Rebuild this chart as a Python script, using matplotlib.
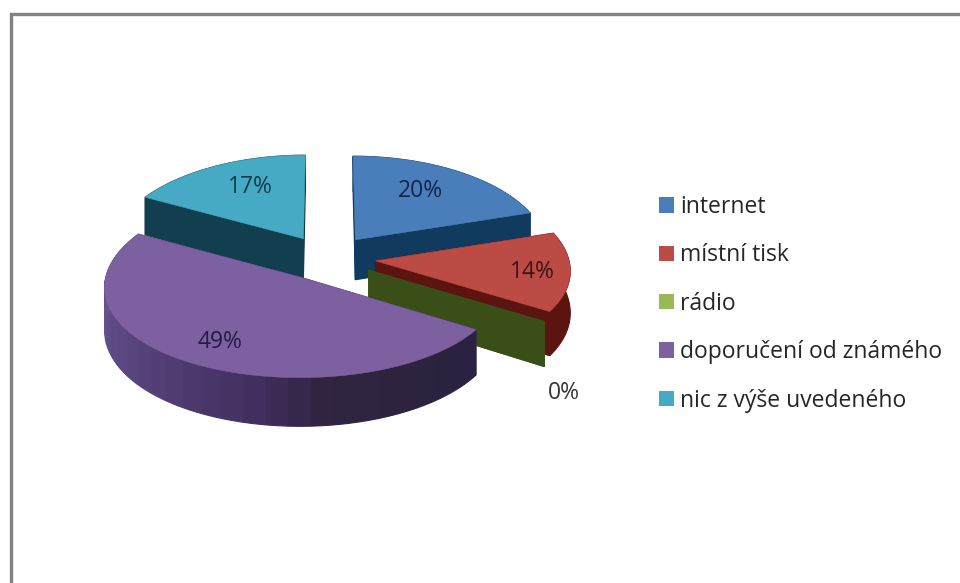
import numpy as np
import matplotlib
matplotlib.use('Agg')
import matplotlib.pyplot as plt
from matplotlib.colors import LinearSegmentedColormap
from matplotlib.patches import Patch

labels = ['internet', 'místní tisk', 'rádio', 'doporučení od známého', 'nic z výše uvedeného']
shares = [20, 14, 0, 49, 17]
top_colors = ['#4a7ebb', '#bc4a45', '#98b954', '#7d60a0', '#46aac5']
side_colors = ['#103a5e', '#5c1410', '#3a4f17', '#4a3a6a', '#123f4f']
# back slices first so the nearer ones paint over them
draw_order = [4, 0, 1, 2, 3]

# pie placement in pixels
CX, CY = 327.5, 258
RX, RY = 193, 91
EXPLODE = 0.25
PERSP_X, PERSP_Y = 0.09, 0.062
DEPTH = 41


def project(u, v):
    return CX + RX * u / (1 + PERSP_X * v), CY - RY * v / (1 + PERSP_Y * v)


def depth_at(v):
    return DEPTH / (1 + 0.13 * v)


def slice_points(start, end):
    """Outer rim and apex of a slice in plane coordinates."""
    mid = np.radians((start + end) / 2)
    ox, oy = EXPLODE * np.sin(mid), EXPLODE * np.cos(mid)
    n = max(2, int(abs(end - start) / 1.5))
    t = np.radians(np.linspace(start, end, n))
    return ox, oy, ox + np.sin(t), oy + np.cos(t)


def wall(ax, u, v, color):
    x, y = project(u, v)
    d = depth_at(np.asarray(v))
    ax.fill(np.r_[x, x[::-1]], np.r_[y, (y + d)[::-1]], color=color, lw=0.8)


fig = plt.figure(figsize=(9.6, 5.83), dpi=100)
ax = fig.add_axes([0, 0, 1, 1])
ax.set_xlim(0, 960)
ax.set_ylim(583, 0)
ax.axis('off')

plt.rcParams['font.family'] = ['Open Sans', 'DejaVu Sans']

# frame of the chart area, only the top and left edges are in view
ax.plot([10.5, 10.5, 960], [583, 13.5, 13.5], color='#828282', lw=2.4, solid_joinstyle='miter')

purple_cmap = LinearSegmentedColormap.from_list(
    'side', [(0, '#2a2240'), (0.27, '#30243f'), (0.38, '#41305f'), (0.58, '#55417a'), (0.78, '#64508c'), (1, '#6a5592')])

bounds = np.r_[0, np.cumsum(shares)] * 3.6
for i in draw_order:
    start, end = bounds[i], bounds[i + 1]
    ox, oy, rim_u, rim_v = slice_points(start, end)

    # radial walls, then the outer wall, then the top
    wall(ax, np.array([ox, rim_u[0]]), np.array([oy, rim_v[0]]), side_colors[i])
    wall(ax, np.array([ox, rim_u[-1]]), np.array([oy, rim_v[-1]]), side_colors[i])

    if shares[i] > 30:
        # the big slice shades from dark to light along its rim
        step = 4
        for k in range(0, len(rim_u) - 1, step):
            u = rim_u[k:k + step + 1]
            v = rim_v[k:k + step + 1]
            wall(ax, u, v, purple_cmap(k / (len(rim_u) - 1)))
    elif shares[i] > 0:
        wall(ax, rim_u, rim_v, side_colors[i])

    x, y = project(np.r_[ox, rim_u], np.r_[oy, rim_v])
    if shares[i] > 0:
        ax.fill(x, y, color=top_colors[i], lw=0.4)

# percentage labels
text_pos = [(420, 191), (532, 272), (564, 393), (220, 342), (250, 187)]
text_colors = ['#14244a', '#3a1512', '#333333', '#251a45', '#123a4a']
for s, pos, c in zip(shares, text_pos, text_colors):
    ax.text(pos[0], pos[1], '%d%%' % s, fontsize=16.5, color=c, ha='center', va='center')

handles = [Patch(facecolor=c, edgecolor='none') for c in top_colors]
ax.legend(handles, labels, loc='upper left', bbox_to_anchor=(659 / 960, 1 - 195 / 583),
          frameon=False, fontsize=16.5, labelcolor='#262626', handlelength=0.66, handleheight=0.66,
          handletextpad=0.26, labelspacing=1.065, borderpad=0, borderaxespad=0)

fig.savefig('out.png', dpi=100)
